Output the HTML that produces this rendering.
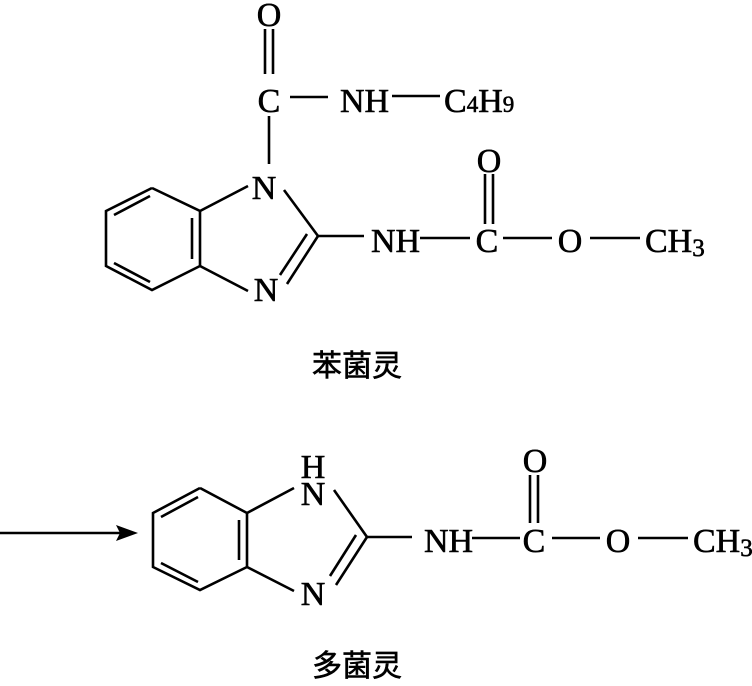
<!DOCTYPE html>
<html><head><meta charset="utf-8"><style>
html,body{margin:0;padding:0;background:#fff;}
svg{display:block}
text{font-family:"Liberation Serif","Noto Serif CJK SC",serif;fill:#000;stroke:#000;stroke-width:0.6;}
</style></head><body>
<svg width="752" height="686" viewBox="0 0 752 686" xmlns="http://www.w3.org/2000/svg">
<g stroke="#000" stroke-width="2.6" fill="none">
<polyline points="152,188 106,211 106,266 152,290 200,266 200,211 152,188"/>
<line x1="114" y1="215" x2="150" y2="196"/>
<line x1="114" y1="263" x2="150" y2="282"/>
<line x1="192" y1="218" x2="192" y2="259"/>
<line x1="200" y1="211" x2="248" y2="186"/>
<line x1="200" y1="266" x2="248" y2="291"/>
<line x1="284" y1="190" x2="318" y2="236"/>
<line x1="318" y1="236" x2="287" y2="284"/>
<line x1="307" y1="234" x2="280" y2="275"/>
<line x1="318" y1="236" x2="364" y2="236"/>
<line x1="265" y1="29" x2="265" y2="74"/>
<line x1="273" y1="29" x2="273" y2="74"/>
<line x1="269" y1="116" x2="269" y2="164"/>
<line x1="290" y1="97" x2="328" y2="97"/>
<line x1="392" y1="96" x2="440" y2="96"/>
<line x1="420" y1="238" x2="470" y2="238"/>
<line x1="503" y1="238" x2="552" y2="238"/>
<line x1="590" y1="238" x2="640" y2="238"/>
<line x1="485" y1="174" x2="485" y2="224"/>
<line x1="493" y1="174" x2="493" y2="224"/>
<line x1="0" y1="533" x2="122" y2="533"/>
<polyline points="200,488 153,513 153,567 200,590 247,567 247,513 200,488"/>
<line x1="161" y1="517" x2="198" y2="497"/>
<line x1="161" y1="563" x2="198" y2="582"/>
<line x1="239" y1="520" x2="239" y2="560"/>
<line x1="247" y1="513" x2="294" y2="488"/>
<line x1="247" y1="567" x2="294" y2="591"/>
<line x1="334" y1="490" x2="367" y2="537"/>
<line x1="367" y1="537" x2="336" y2="585"/>
<line x1="356" y1="535" x2="330" y2="576"/>
<line x1="367" y1="537" x2="412" y2="537"/>
<line x1="472" y1="538" x2="520" y2="538"/>
<line x1="552" y1="538" x2="600" y2="538"/>
<line x1="638" y1="538" x2="688" y2="538"/>
<line x1="530" y1="475" x2="530" y2="523"/>
<line x1="538" y1="475" x2="538" y2="523"/>
</g>
<polygon points="138,533 116,525 120,533 116,541" fill="#000"/>
<g font-size="34">
<text x="269" y="26" text-anchor="middle">O</text>
<text x="269" y="112" text-anchor="middle">C</text>
<text x="340" y="112">NH</text>
<text x="444" y="112">C<tspan font-size="23">4</tspan>H<tspan font-size="23">9</tspan></text>
<text x="264" y="199" text-anchor="middle">N</text>
<text x="266" y="301" text-anchor="middle">N</text>
<text x="371" y="252">NH</text>
<text x="487" y="252" text-anchor="middle">C</text>
<text x="489" y="172" text-anchor="middle">O</text>
<text x="570" y="252" text-anchor="middle">O</text>
<text x="645" y="252">CH<tspan font-size="25" dy="4">3</tspan></text>
<text x="313" y="478" text-anchor="middle">H</text>
<text x="313" y="505" text-anchor="middle">N</text>
<text x="313" y="605" text-anchor="middle">N</text>
<text x="424" y="552">NH</text>
<text x="534" y="552" text-anchor="middle">C</text>
<text x="535" y="472" text-anchor="middle">O</text>
<text x="618" y="552" text-anchor="middle">O</text>
<text x="693" y="552">CH<tspan font-size="25" dy="4">3</tspan></text>
</g>
<g font-size="30">
<text x="312" y="376" style='font-family:"Noto Sans CJK SC",sans-serif'>苯菌灵</text>
<text x="312" y="676" style='font-family:"Noto Sans CJK SC",sans-serif'>多菌灵</text>
</g>
</svg>
</body></html>
